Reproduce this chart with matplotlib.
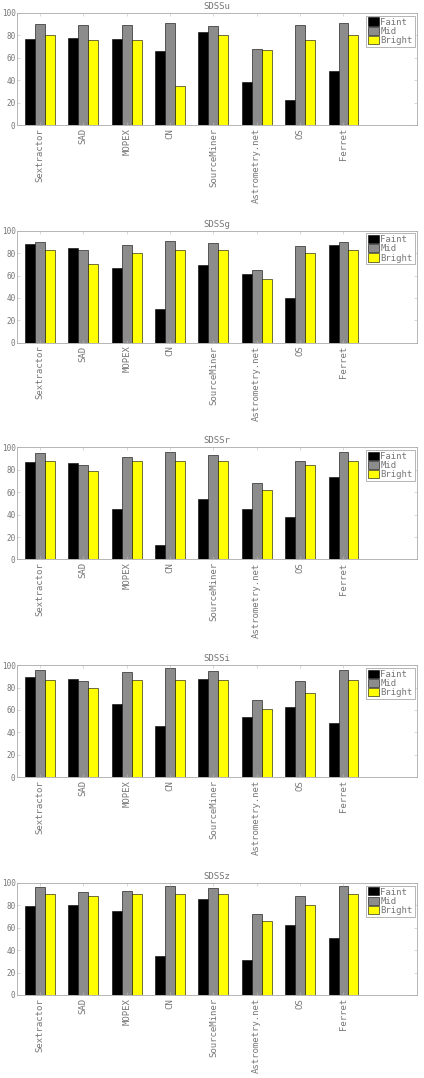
import numpy as np
import matplotlib
matplotlib.use('Agg')
import matplotlib.pyplot as plt

methods = ['Sextractor', 'SAD', 'MOPEX', 'CN', 'SourceMiner', 'Astrometry.net', 'OS', 'Ferret']
bands = ['SDSSu', 'SDSSg', 'SDSSr', 'SDSSi', 'SDSSz']
groups = ['Faint', 'Mid', 'Bright']

# percent detected, per band, per method
u_faint = [77, 78, 77, 66, 83, 38, 22, 48]
u_mid = [90, 89, 89, 91, 88, 68, 89, 91]
u_bright = [80, 76, 76, 35, 80, 67, 76, 80]

g_faint = [88, 85, 67, 30, 69, 61, 40, 87]
g_mid = [90, 83, 87, 91, 89, 65, 86, 90]
g_bright = [83, 70, 80, 83, 83, 57, 80, 83]

r_faint = [87, 86, 45, 13, 54, 45, 38, 74]
r_mid = [95, 84, 91, 96, 93, 68, 88, 96]
r_bright = [88, 79, 88, 88, 88, 62, 84, 88]

i_faint = [89, 88, 65, 46, 88, 54, 63, 48]
i_mid = [96, 86, 94, 97, 95, 69, 86, 96]
i_bright = [87, 80, 87, 87, 87, 61, 75, 87]

z_faint = [79, 80, 75, 35, 86, 31, 62, 51]
z_mid = [96, 92, 93, 97, 95, 72, 88, 97]
z_bright = [90, 88, 90, 90, 90, 66, 80, 90]

data = [
    (u_faint, u_mid, u_bright),
    (g_faint, g_mid, g_bright),
    (r_faint, r_mid, r_bright),
    (i_faint, i_mid, i_bright),
    (z_faint, z_mid, z_bright),
]

colors = ['black', '#8c8c8c', '#ffff00']
mono = 'DejaVu Sans Mono'
grey = '#777777'

fig = plt.figure(figsize=(4.24, 10.78), dpi=100)
bottoms = [0.884, 0.682, 0.481, 0.279, 0.077]
x = np.arange(1, len(methods) + 1)
w = 0.23

for k in range(5):
    ax = fig.add_axes([0.040, bottoms[k], 0.944, 0.104])
    for j in range(3):
        ax.bar(x + (j - 1) * w, data[k][j], w, color=colors[j],
               edgecolor='black', linewidth=0.4, label=groups[j])
    ax.set_xlim(0.47, 9.7)
    ax.set_ylim(0, 100)
    ax.set_yticks([0, 20, 40, 60, 80, 100])
    ax.set_xticks(x)
    ax.set_xticklabels(methods, rotation=90, family=mono, fontsize=6.5, color=grey)
    for lab in ax.get_yticklabels():
        lab.set_family(mono)
        lab.set_fontsize(5.5)
        lab.set_color(grey)
    ax.tick_params(direction='in', length=2, width=0.4, top=True, right=True,
                   colors='#bbbbbb', labelcolor=grey, pad=2)
    ax.tick_params(axis='y', pad=1)
    for s in ax.spines.values():
        s.set_color('#aaaaaa')
        s.set_linewidth(0.6)
    ax.set_title(bands[k], family=mono, fontsize=6.5, color=grey, pad=3)
    leg = ax.legend(loc='upper right', prop={'family': mono, 'size': 6.5},
                    handlelength=1.2, handleheight=1.0, handletextpad=0.2,
                    borderpad=0.2, labelspacing=0.0, borderaxespad=0.3,
                    fancybox=False, framealpha=1)
    leg.get_frame().set_edgecolor('#999999')
    leg.get_frame().set_linewidth(0.5)
    for t in leg.get_texts():
        t.set_color(grey)

fig.savefig('out.png', dpi=100)
